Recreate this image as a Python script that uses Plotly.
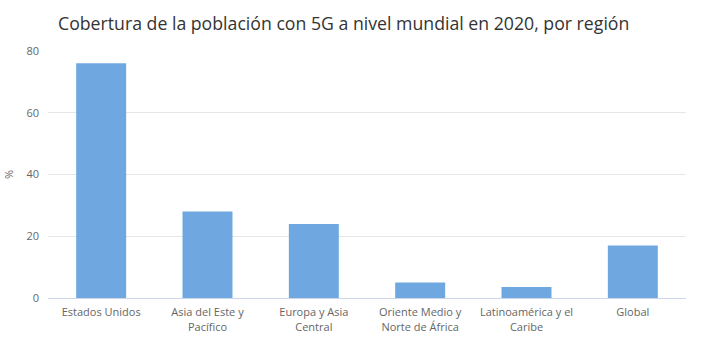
import plotly.graph_objects as go

categories = ["Estados Unidos", "Asia del Este y<br>Pacífico", "Europa y Asia<br>Central",
              "Oriente Medio y<br>Norte de África", "Latinoamérica y el<br>Caribe", "Global"]
coverage = [76, 28, 24, 5, 3.6, 17]
y_ticks = [0, 20, 40, 60, 80]

fig = go.Figure()
fig.add_trace(go.Bar(x=categories, y=coverage, marker_color="#6fa8e0",
                     marker_line_width=0, width=0.47))
fig.update_layout(
    width=720, height=340,
    margin=dict(l=48, r=34, t=51, b=42, autoexpand=False),
    paper_bgcolor="white", plot_bgcolor="white",
    font=dict(family="Open Sans", color="#666666", size=11),
    title=dict(text="Cobertura de la población con 5G a nivel mundial en 2020, por región",
               x=10/638, xref="paper", xanchor="left",
               y=0.93, yref="container", yanchor="middle",
               font=dict(size=17.7, color="#333333", family="Open Sans")),
    showlegend=False,
)
fig.update_xaxes(showline=True, linecolor="#ccd6eb", linewidth=1, ticks="",
                 automargin=False, ticklabelstandoff=4,
                 tickfont=dict(size=11, color="#666666"), showgrid=False)
fig.update_yaxes(range=[0, 80], tickvals=y_ticks, showgrid=True, gridcolor="#e6e6e6",
                 zeroline=False, automargin=False, ticklabelstandoff=8,
                 tickfont=dict(size=11, color="#666666"),
                 title=dict(text="%", font=dict(size=11, color="#666666"), standoff=10))
fig.write_html("out.html")
